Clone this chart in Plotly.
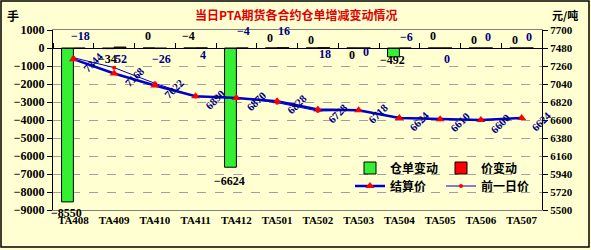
import plotly.graph_objects as go

categories = ['TA408', 'TA409', 'TA410', 'TA411', 'TA412', 'TA501',
              'TA502', 'TA503', 'TA504', 'TA505', 'TA506', 'TA507']
stock_change = [-8550, -34, 0, -4, -6624, 0, 0, 0, -492, 0, 0, 0]
price_change = [-18, 52, -26, 4, -4, 16, 18, 0, -6, 0, 0, 0]
settle_price = [7344, 7168, 7022, 6890, 6870, 6828, 6728, 6718, 6624, 6610, 6600, 6624]
prev_price = [7362, 7240, 7048, 6886, 6874, 6812, 6710, 6718, 6630, 6610, 6600, 6624]
left_ticks = [1000, 0, -1000, -2000, -3000, -4000, -5000, -6000, -7000, -8000, -9000]
right_ticks = [7700, 7480, 7260, 7040, 6820, 6600, 6380, 6160, 5940, 5720, 5500]

# label placement (left-axis units) and extra pixel shifts
stock_label_y = [-8990, -610, 670, 670, -7390, 560, 440, -390, -670, 670, 440, 440]
stock_label_dy = [-3, 0, 0, 0, 0, 0, 0, 0, 0, 0, 0, 0]
price_label_y = [670, -610, -610, -390, 950, 950, -330, -220, 610, -610, 610, 610]

W, H = 591, 250
ML, MR, MT, MB = 53, 49, 30, 40
PW, PH = W - ML - MR, H - MT - MB

def px(x):
    return (x - ML) / PW

def py(y):
    return (H - MB - y) / PH

BG = '#FFFFD2'
NAVY = '#000080'
SERIF = 'Liberation Serif'
CJK = 'Noto Sans CJK SC'

fig = go.Figure()
fig.add_trace(go.Bar(x=categories, y=stock_change, name='仓单变动', legend='legend',
                     marker=dict(color='#33F033', line=dict(color='black', width=1))))
fig.add_trace(go.Bar(x=categories, y=price_change, name='价变动', legend='legend',
                     marker=dict(color='#FF0000', line=dict(color='black', width=1))))
fig.add_trace(go.Scatter(x=categories, y=settle_price, name='结算价', yaxis='y2',
                         legend='legend2', mode='lines+markers',
                         line=dict(color='#0000CC', width=2.5),
                         marker=dict(symbol='triangle-up', size=8, color='#FF0000')))
fig.add_trace(go.Scatter(x=categories, y=prev_price, name='前一日价', yaxis='y2',
                         legend='legend2', mode='lines+markers',
                         line=dict(color='#0000CC', width=1),
                         marker=dict(symbol='circle', size=4, color='#FF0000')))
# helper trace for the category axis crossing at zero
fig.add_trace(go.Scatter(x=categories, y=[0] * len(categories), xaxis='x2',
                         mode='markers', marker=dict(opacity=0), showlegend=False,
                         hoverinfo='skip'))

ann = []
for c, v, ly, dy in zip(categories, stock_change, stock_label_y, stock_label_dy):
    ann.append(dict(x=c, y=ly, xref='x', yref='y', text=str(v).replace('-', '−'),
                    showarrow=False, xshift=-7, yshift=dy,
                    font=dict(family=SERIF, size=12, color='black', weight='bold')))
for c, v, ly in zip(categories, price_change, price_label_y):
    ann.append(dict(x=c, y=ly, xref='x', yref='y', text=str(v).replace('-', '−'),
                    showarrow=False, xshift=7,
                    font=dict(family=SERIF, size=12, color=NAVY, weight='bold')))
for c, v in zip(categories, settle_price):
    ann.append(dict(x=c, y=v, xref='x', yref='y2', text=str(v), textangle=-45,
                    showarrow=False, xshift=20, yshift=-3,
                    font=dict(family=SERIF, size=11, color=NAVY, weight='bold')))

ann.append(dict(x=px(296), y=py(14), xref='paper', yref='paper',
                xanchor='center', yanchor='middle',
                text='当日PTA期货各合约仓单增减变动情况', showarrow=False,
                font=dict(family=CJK, size=12, color='#E00000', weight='bold')))
ann.append(dict(x=px(13), y=py(15), xref='paper', yref='paper', text='手',
                xanchor='center', yanchor='middle',
                showarrow=False, font=dict(family=CJK, size=12, color='black', weight='bold')))
ann.append(dict(x=px(565), y=py(15), xref='paper', yref='paper', text='元/吨',
                xanchor='center', yanchor='middle',
                showarrow=False, font=dict(family=CJK, size=11, color='black', weight='bold')))

legend_common = dict(orientation='h', xanchor='left', yanchor='middle',
                     bgcolor='rgba(0,0,0,0)', entrywidth=46, itemwidth=30,
                     traceorder='normal',
                     font=dict(family=CJK, size=12, color='black', weight='bold'))

fig.update_layout(
    width=W, height=H,
    margin=dict(l=ML, r=MR, t=MT, b=MB, pad=0, autoexpand=False),
    paper_bgcolor=BG, plot_bgcolor=BG,
    barmode='group', bargap=0.42, bargroupgap=0,
    showlegend=True,
    legend=dict(x=px(350), y=py(168), **legend_common),
    legend2=dict(x=px(350), y=py(186), **legend_common),
    xaxis=dict(type='category', range=[-0.5, 11.5], showgrid=False,
               showline=True, linecolor='#808080', linewidth=1, mirror=True,
               ticks='', tickfont=dict(family=SERIF, size=11, color='black', weight='bold')),
    xaxis2=dict(type='category', overlaying='x', anchor='free', position=py(48),
                side='top', range=[-0.5, 11.5], showgrid=False, showticklabels=False,
                showline=True, linecolor='black', linewidth=1,
                ticks='outside', ticklen=5, tickcolor='black', tickson='boundaries'),
    yaxis=dict(range=[-9000, 1000], tickvals=left_ticks, showgrid=True,
               gridcolor='#A0A0A0', griddash='dash', gridwidth=1,
               zeroline=False, showline=True, linecolor='black', linewidth=1,
               ticks='outside', ticklen=5, tickcolor='black',
               tickfont=dict(family=SERIF, size=12, color='black', weight='bold')),
    yaxis2=dict(range=[5500, 7700], tickvals=right_ticks, overlaying='y', side='right',
                showgrid=False, zeroline=False, showline=True, linecolor='black',
                linewidth=1, ticks='outside', ticklen=5, tickcolor='black',
                tickfont=dict(family=SERIF, size=11, color='black', weight='bold')),
    annotations=ann,
    shapes=[dict(type='rect', xref='paper', yref='paper',
                 x0=px(1), x1=px(589), y0=py(247), y1=py(1),
                 line=dict(color='black', width=1.5))],
)

fig.write_html('out.html')
